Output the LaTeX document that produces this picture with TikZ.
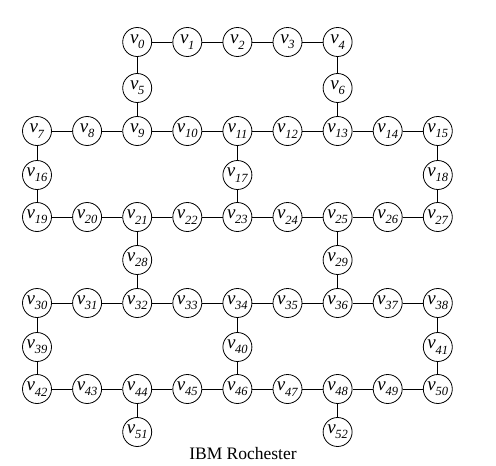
\documentclass[tikz,border=0pt]{standalone}
\usepackage{fontspec}
\setmainfont{Liberation Serif}
\newcommand{\qlab}[1]{\textit{v}\kern-0.3pt\raisebox{-0.28em}{\fontsize{12.5}{13}\selectfont\textit{#1}}}
\begin{document}
\begin{tikzpicture}[x=1pt,y=-1pt,
  q/.style={circle,draw,line width=0.8pt,minimum size=29pt,inner sep=0pt,fill=white,font=\fontsize{19}{20}\selectfont},
  e/.style={line width=0.8pt}]
\useasboundingbox (0,0) rectangle (496,466);
\foreach \i/\c/\y in {0/2/42,1/3/42,2/4/42,3/5/42,4/6/42,
  5/2/88,6/6/88,
  7/0/131,8/1/131,9/2/131,10/3/131,11/4/131,12/5/131,13/6/131,14/7/131,15/8/131,
  16/0/175,17/4/175,18/8/175,
  19/0/217,20/1/217,21/2/217,22/3/217,23/4/217,24/5/217,25/6/217,26/7/217,27/8/217,
  28/2/260,29/6/260,
  30/0/303,31/1/303,32/2/303,33/3/303,34/4/303,35/5/303,36/6/303,37/7/303,38/8/303,
  39/0/347,40/4/347,41/8/347,
  42/0/389,43/1/389,44/2/389,45/3/389,46/4/389,47/5/389,48/6/389,49/7/389,50/8/389,
  51/2/432,52/6/432}
  \node[q] (n\i) at ({37+50.1*\c},\y) {\qlab{\i}};
\foreach \a in {0,1,2,3,7,8,9,10,11,12,13,14,19,20,21,22,23,24,25,26,30,31,32,33,34,35,36,37,42,43,44,45,46,47,48,49}{
  \pgfmathtruncatemacro\b{\a+1}
  \draw[e] (n\a) -- (n\b);
}
\foreach \a/\b in {0/5,5/9,4/6,6/13,7/16,16/19,11/17,17/23,15/18,18/27,21/28,28/32,25/29,29/36,
  30/39,39/42,34/40,40/46,38/41,41/50,44/51,48/52}
  \draw[e] (n\a) -- (n\b);
\node[font=\fontsize{17.5}{18}\selectfont,anchor=base] (cap) at (243,459) {IBM Rochester};
\end{tikzpicture}
\end{document}
